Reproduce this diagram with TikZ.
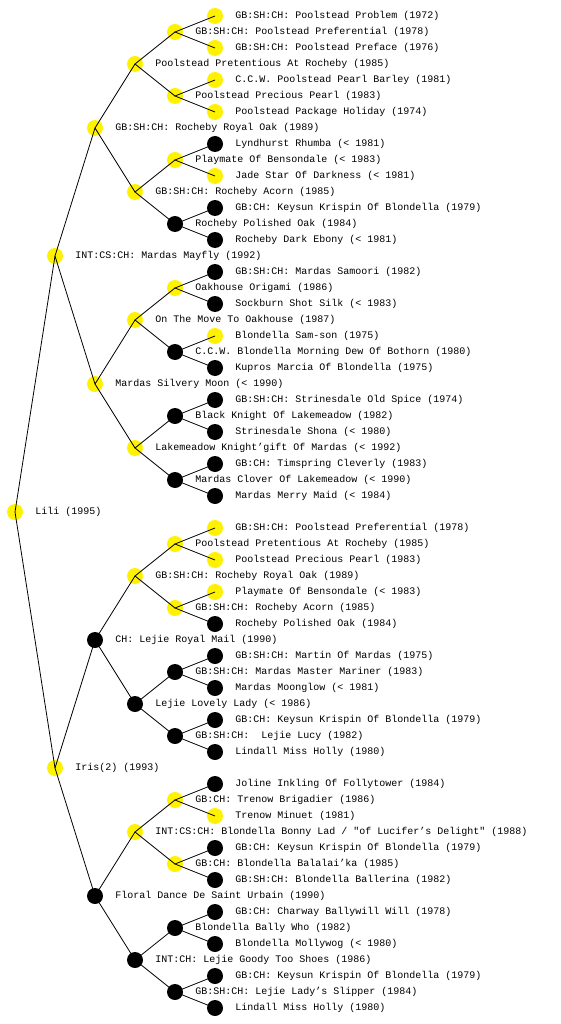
\documentclass[tikz,border=0pt]{standalone}
\usepackage{fontspec}
\setmonofont{Liberation Mono}
\usepackage{tikz}

\tikzset{
  dog/.style={circle,minimum size=16pt,inner sep=0pt,
    label={[font=\ttfamily\fontsize{10}{12}\selectfont,inner sep=0pt,anchor=west,xshift=12pt]right:{#1}}},
  yel/.style={dog={#1},fill=yellow},
  blk/.style={dog={#1},fill=black},
  edge/.style={line width=0.8pt,black}
}

\begin{document}
\begin{tikzpicture}[x=1pt,y=-1pt]
  \useasboundingbox[fill=white] (0,0) rectangle (560,1024);

  % ---- Root and parents ----
  \node[yel={Lili (1995)}] (p0) at (15,512) {};
  \node[yel={INT:CS:CH: Mardas Mayfly (1992)}] (a1) at (55,256) {};
  \node[yel={Iris(2) (1993)}] (a2) at (55,768) {};

  % ---- Grandparents ----
  \node[yel={GB:SH:CH: Rocheby Royal Oak (1989)}] (b1) at (95,128) {};
  \node[yel={Mardas Silvery Moon (< 1990)}] (b2) at (95,384) {};
  \node[blk={CH: Lejie Royal Mail (1990)}] (b3) at (95,640) {};
  \node[blk={Floral Dance De Saint Urbain (1990)}] (b4) at (95,896) {};

  % ---- Great-grandparents ----
  \node[yel={Poolstead Pretentious At Rocheby (1985)}] (c1) at (135,64) {};
  \node[yel={GB:SH:CH: Rocheby Acorn (1985)}] (c2) at (135,192) {};
  \node[yel={On The Move To Oakhouse (1987)}] (c3) at (135,320) {};
  \node[yel={Lakemeadow Knight’gift Of Mardas (< 1992)}] (c4) at (135,448) {};
  \node[yel={GB:SH:CH: Rocheby Royal Oak (1989)}] (c5) at (135,576) {};
  \node[blk={Lejie Lovely Lady (< 1986)}] (c6) at (135,704) {};
  \node[yel={INT:CS:CH: Blondella Bonny Lad / "of Lucifer’s Delight" (1988)}] (c7) at (135,832) {};
  \node[blk={INT:CH: Lejie Goody Too Shoes (1986)}] (c8) at (135,960) {};

  % ---- Generation 4 ----
  \node[yel={GB:SH:CH: Poolstead Preferential (1978)}] (d1) at (175,32) {};
  \node[yel={Poolstead Precious Pearl (1983)}] (d2) at (175,96) {};
  \node[yel={Playmate Of Bensondale (< 1983)}] (d3) at (175,160) {};
  \node[blk={Rocheby Polished Oak (1984)}] (d4) at (175,224) {};
  \node[yel={Oakhouse Origami (1986)}] (d5) at (175,288) {};
  \node[blk={C.C.W. Blondella Morning Dew Of Bothorn (1980)}] (d6) at (175,352) {};
  \node[blk={Black Knight Of Lakemeadow (1982)}] (d7) at (175,416) {};
  \node[blk={Mardas Clover Of Lakemeadow (< 1990)}] (d8) at (175,480) {};
  \node[yel={Poolstead Pretentious At Rocheby (1985)}] (d9) at (175,544) {};
  \node[yel={GB:SH:CH: Rocheby Acorn (1985)}] (d10) at (175,608) {};
  \node[blk={GB:SH:CH: Mardas Master Mariner (1983)}] (d11) at (175,672) {};
  \node[blk={GB:SH:CH:\ \ Lejie Lucy (1982)}] (d12) at (175,736) {};
  \node[yel={GB:CH: Trenow Brigadier (1986)}] (d13) at (175,800) {};
  \node[yel={GB:CH: Blondella Balalai’ka (1985)}] (d14) at (175,864) {};
  \node[blk={Blondella Bally Who (1982)}] (d15) at (175,928) {};
  \node[blk={GB:SH:CH: Lejie Lady’s Slipper (1984)}] (d16) at (175,992) {};

  % ---- Generation 5 ----
  \node[yel={GB:SH:CH: Poolstead Problem (1972)}] (e1) at (215,16) {};
  \node[yel={GB:SH:CH: Poolstead Preface (1976)}] (e2) at (215,48) {};
  \node[yel={C.C.W. Poolstead Pearl Barley (1981)}] (e3) at (215,80) {};
  \node[yel={Poolstead Package Holiday (1974)}] (e4) at (215,112) {};
  \node[blk={Lyndhurst Rhumba (< 1981)}] (e5) at (215,144) {};
  \node[yel={Jade Star Of Darkness (< 1981)}] (e6) at (215,176) {};
  \node[blk={GB:CH: Keysun Krispin Of Blondella (1979)}] (e7) at (215,208) {};
  \node[blk={Rocheby Dark Ebony (< 1981)}] (e8) at (215,240) {};
  \node[blk={GB:SH:CH: Mardas Samoori (1982)}] (e9) at (215,272) {};
  \node[blk={Sockburn Shot Silk (< 1983)}] (e10) at (215,304) {};
  \node[yel={Blondella Sam-son (1975)}] (e11) at (215,336) {};
  \node[blk={Kupros Marcia Of Blondella (1975)}] (e12) at (215,368) {};
  \node[blk={GB:SH:CH: Strinesdale Old Spice (1974)}] (e13) at (215,400) {};
  \node[blk={Strinesdale Shona (< 1980)}] (e14) at (215,432) {};
  \node[blk={GB:CH: Timspring Cleverly (1983)}] (e15) at (215,464) {};
  \node[blk={Mardas Merry Maid (< 1984)}] (e16) at (215,496) {};
  \node[yel={GB:SH:CH: Poolstead Preferential (1978)}] (e17) at (215,528) {};
  \node[yel={Poolstead Precious Pearl (1983)}] (e18) at (215,560) {};
  \node[yel={Playmate Of Bensondale (< 1983)}] (e19) at (215,592) {};
  \node[blk={Rocheby Polished Oak (1984)}] (e20) at (215,624) {};
  \node[blk={GB:SH:CH: Martin Of Mardas (1975)}] (e21) at (215,656) {};
  \node[blk={Mardas Moonglow (< 1981)}] (e22) at (215,688) {};
  \node[blk={GB:CH: Keysun Krispin Of Blondella (1979)}] (e23) at (215,720) {};
  \node[blk={Lindall Miss Holly (1980)}] (e24) at (215,752) {};
  \node[blk={Joline Inkling Of Follytower (1984)}] (e25) at (215,784) {};
  \node[yel={Trenow Minuet (1981)}] (e26) at (215,816) {};
  \node[blk={GB:CH: Keysun Krispin Of Blondella (1979)}] (e27) at (215,848) {};
  \node[blk={GB:SH:CH: Blondella Ballerina (1982)}] (e28) at (215,880) {};
  \node[blk={GB:CH: Charway Ballywill Will (1978)}] (e29) at (215,912) {};
  \node[blk={Blondella Mollywog (< 1980)}] (e30) at (215,944) {};
  \node[blk={GB:CH: Keysun Krispin Of Blondella (1979)}] (e31) at (215,976) {};
  \node[blk={Lindall Miss Holly (1980)}] (e32) at (215,1008) {};

  % ---- Connectors ----
  \draw[edge] (a1.center) -- (p0.center) -- (a2.center);
  \draw[edge] (b1.center) -- (a1.center) -- (b2.center);
  \draw[edge] (b3.center) -- (a2.center) -- (b4.center);
  \draw[edge] (c1.center) -- (b1.center) -- (c2.center);
  \draw[edge] (c3.center) -- (b2.center) -- (c4.center);
  \draw[edge] (c5.center) -- (b3.center) -- (c6.center);
  \draw[edge] (c7.center) -- (b4.center) -- (c8.center);
  \draw[edge] (d1.center) -- (c1.center) -- (d2.center);
  \draw[edge] (d3.center) -- (c2.center) -- (d4.center);
  \draw[edge] (d5.center) -- (c3.center) -- (d6.center);
  \draw[edge] (d7.center) -- (c4.center) -- (d8.center);
  \draw[edge] (d9.center) -- (c5.center) -- (d10.center);
  \draw[edge] (d11.center) -- (c6.center) -- (d12.center);
  \draw[edge] (d13.center) -- (c7.center) -- (d14.center);
  \draw[edge] (d15.center) -- (c8.center) -- (d16.center);
  \draw[edge] (e1.center) -- (d1.center) -- (e2.center);
  \draw[edge] (e3.center) -- (d2.center) -- (e4.center);
  \draw[edge] (e5.center) -- (d3.center) -- (e6.center);
  \draw[edge] (e7.center) -- (d4.center) -- (e8.center);
  \draw[edge] (e9.center) -- (d5.center) -- (e10.center);
  \draw[edge] (e11.center) -- (d6.center) -- (e12.center);
  \draw[edge] (e13.center) -- (d7.center) -- (e14.center);
  \draw[edge] (e15.center) -- (d8.center) -- (e16.center);
  \draw[edge] (e17.center) -- (d9.center) -- (e18.center);
  \draw[edge] (e19.center) -- (d10.center) -- (e20.center);
  \draw[edge] (e21.center) -- (d11.center) -- (e22.center);
  \draw[edge] (e23.center) -- (d12.center) -- (e24.center);
  \draw[edge] (e25.center) -- (d13.center) -- (e26.center);
  \draw[edge] (e27.center) -- (d14.center) -- (e28.center);
  \draw[edge] (e29.center) -- (d15.center) -- (e30.center);
  \draw[edge] (e31.center) -- (d16.center) -- (e32.center);
\end{tikzpicture}
\end{document}
